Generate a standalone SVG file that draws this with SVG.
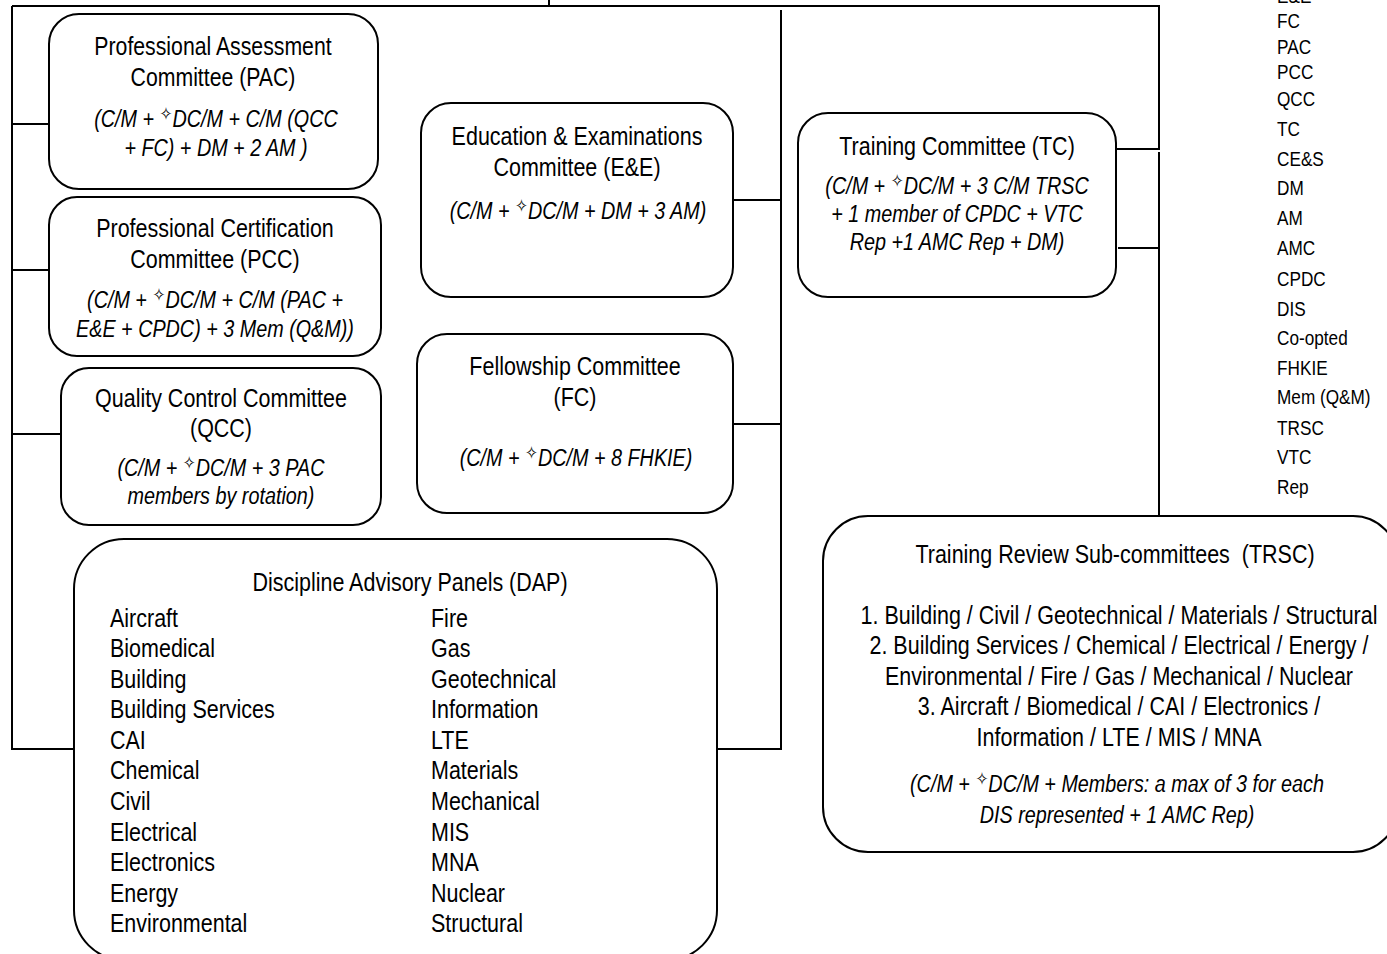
<svg xmlns="http://www.w3.org/2000/svg" width="1387" height="954" viewBox="0 0 1387 954">
<style>
.box{fill:#fff;stroke:#000;stroke-width:2}
.ln{fill:none;stroke:#000;stroke-width:2}
.t{font-family:"Liberation Sans",Arial,sans-serif;font-size:25px;fill:#000;text-anchor:middle}
.i{font-family:"Liberation Sans",Arial,sans-serif;font-size:23px;font-style:italic;fill:#000;text-anchor:middle}
.l{font-family:"Liberation Sans",Arial,sans-serif;font-size:25px;fill:#000}
.g{font-family:"Liberation Sans",Arial,sans-serif;font-size:20px;fill:#000}
.s{font-family:"DejaVu Sans",sans-serif;font-size:18px;font-style:normal}
</style>
<rect width="1387" height="954" fill="#fff"/>
<g id="connectors">
<path class="ln" d="M12,6 H1159 V149 H1113"/>
<path class="ln" d="M549,0 V6"/>
<path class="ln" d="M12,6 V749 H74"/>
<path class="ln" d="M12,124 H49 M12,270 H49 M12,434 H61"/>
<path class="ln" d="M781,10 V749 H717 M733,200 H781 M733,424 H781"/>
<path class="ln" d="M1159,152 V517 M1118,248 H1159"/>
</g>
<g id="pac">
<rect class="box" x="49" y="14" width="329" height="175" rx="30"/>
<text class="t" transform="matrix(.85 0 0 1 213 55)"><tspan x="0" y="0">Professional Assessment</tspan><tspan x="0" y="31">Committee (PAC)</tspan></text>
<text class="i" transform="matrix(.86 0 0 1 216 127)"><tspan x="0" y="0">(C/M + </tspan><tspan class="s" dy="-7">✧</tspan><tspan dy="7">DC/M + C/M (QCC</tspan><tspan x="0" y="29">+ FC) + DM + 2 AM )</tspan></text>
</g>
<g id="pcc">
<rect class="box" x="49" y="197" width="332" height="159" rx="28"/>
<text class="t" transform="matrix(.86 0 0 1 215 237)"><tspan x="0" y="0">Professional Certification</tspan><tspan x="0" y="31">Committee (PCC)</tspan></text>
<text class="i" transform="matrix(.86 0 0 1 215 308)"><tspan x="0" y="0">(C/M + </tspan><tspan class="s" dy="-7">✧</tspan><tspan dy="7">DC/M + C/M (PAC +</tspan><tspan x="0" y="29">E&amp;E + CPDC) + 3 Mem (Q&amp;M))</tspan></text>
</g>
<g id="qcc">
<rect class="box" x="61" y="368" width="320" height="157" rx="28"/>
<text class="t" transform="matrix(.86 0 0 1 221 407)"><tspan x="0" y="0">Quality Control Committee</tspan><tspan x="0" y="30">(QCC)</tspan></text>
<text class="i" transform="matrix(.86 0 0 1 221 476)"><tspan x="0" y="0">(C/M + </tspan><tspan class="s" dy="-7">✧</tspan><tspan dy="7">DC/M + 3 PAC</tspan><tspan x="0" y="28">members by rotation)</tspan></text>
</g>
<g id="ee">
<rect class="box" x="421" y="103" width="312" height="194" rx="30"/>
<text class="t" transform="matrix(.86 0 0 1 577 145)"><tspan x="0" y="0">Education &amp; Examinations</tspan><tspan x="0" y="31">Committee (E&amp;E)</tspan></text>
<text class="i" transform="matrix(.86 0 0 1 578 219)"><tspan x="0" y="0">(C/M + </tspan><tspan class="s" dy="-7">✧</tspan><tspan dy="7">DC/M + DM + 3 AM)</tspan></text>
</g>
<g id="fc">
<rect class="box" x="417" y="334" width="316" height="179" rx="30"/>
<text class="t" transform="matrix(.86 0 0 1 575 375)"><tspan x="0" y="0">Fellowship Committee</tspan><tspan x="0" y="31">(FC)</tspan></text>
<text class="i" transform="matrix(.86 0 0 1 576 466)"><tspan x="0" y="0">(C/M + </tspan><tspan class="s" dy="-7">✧</tspan><tspan dy="7">DC/M + 8 FHKIE)</tspan></text>
</g>
<g id="tc">
<rect class="box" x="798" y="113" width="318" height="184" rx="30"/>
<text class="t" transform="matrix(.86 0 0 1 957 155)">Training Committee (TC)</text>
<text class="i" transform="matrix(.86 0 0 1 957 194)"><tspan x="0" y="0">(C/M + </tspan><tspan class="s" dy="-7">✧</tspan><tspan dy="7">DC/M + 3 C/M TRSC</tspan><tspan x="0" y="28">+ 1 member of CPDC + VTC</tspan><tspan x="0" y="56">Rep +1 AMC Rep + DM)</tspan></text>
</g>
<g id="dap">
<rect class="box" x="74" y="539" width="643" height="421" rx="50"/>
<text class="t" transform="matrix(.86 0 0 1 410 591)">Discipline Advisory Panels (DAP)</text>
<text class="l" transform="matrix(.86 0 0 1 110 626.5)"><tspan x="0" y="0">Aircraft</tspan><tspan x="0" y="30.6">Biomedical</tspan><tspan x="0" y="61.2">Building</tspan><tspan x="0" y="91.8">Building Services</tspan><tspan x="0" y="122.4">CAI</tspan><tspan x="0" y="153">Chemical</tspan><tspan x="0" y="183.6">Civil</tspan><tspan x="0" y="214.2">Electrical</tspan><tspan x="0" y="244.8">Electronics</tspan><tspan x="0" y="275.4">Energy</tspan><tspan x="0" y="306">Environmental</tspan></text>
<text class="l" transform="matrix(.86 0 0 1 431 626.5)"><tspan x="0" y="0">Fire</tspan><tspan x="0" y="30.6">Gas</tspan><tspan x="0" y="61.2">Geotechnical</tspan><tspan x="0" y="91.8">Information</tspan><tspan x="0" y="122.4">LTE</tspan><tspan x="0" y="153">Materials</tspan><tspan x="0" y="183.6">Mechanical</tspan><tspan x="0" y="214.2">MIS</tspan><tspan x="0" y="244.8">MNA</tspan><tspan x="0" y="275.4">Nuclear</tspan><tspan x="0" y="306">Structural</tspan></text>
</g>
<g id="trsc">
<rect class="box" x="823" y="516" width="575" height="336" rx="45"/>
<text class="t" xml:space="preserve" transform="matrix(.86 0 0 1 1115 563)">Training Review Sub-committees  (TRSC)</text>
<text class="t" transform="matrix(.86 0 0 1 1119 624)"><tspan x="0" y="0">1. Building / Civil / Geotechnical / Materials / Structural</tspan><tspan x="0" y="30.5">2. Building Services / Chemical / Electrical / Energy /</tspan><tspan x="0" y="61">Environmental / Fire / Gas / Mechanical / Nuclear</tspan><tspan x="0" y="91.5">3. Aircraft / Biomedical / CAI / Electronics /</tspan><tspan x="0" y="122">Information / LTE / MIS / MNA</tspan></text>
<text class="i" transform="matrix(.86 0 0 1 1117 792)"><tspan x="0" y="0">(C/M + </tspan><tspan class="s" dy="-7">✧</tspan><tspan dy="7">DC/M + Members: a max of 3 for each</tspan><tspan x="0" y="31">DIS represented + 1 AMC Rep)</tspan></text>
</g>
<g id="legend">
<text class="g" transform="matrix(.86 0 0 1 1277 0)"><tspan x="0" y="3">E&amp;E</tspan><tspan x="0" y="28">FC</tspan><tspan x="0" y="54">PAC</tspan><tspan x="0" y="79">PCC</tspan><tspan x="0" y="106">QCC</tspan><tspan x="0" y="136">TC</tspan><tspan x="0" y="166">CE&amp;S</tspan><tspan x="0" y="195">DM</tspan><tspan x="0" y="225">AM</tspan><tspan x="0" y="255">AMC</tspan><tspan x="0" y="286">CPDC</tspan><tspan x="0" y="316">DIS</tspan><tspan x="0" y="345">Co-opted</tspan><tspan x="0" y="375">FHKIE</tspan><tspan x="0" y="404">Mem (Q&amp;M)</tspan><tspan x="0" y="435">TRSC</tspan><tspan x="0" y="464">VTC</tspan><tspan x="0" y="494">Rep</tspan></text>
</g>
</svg>
